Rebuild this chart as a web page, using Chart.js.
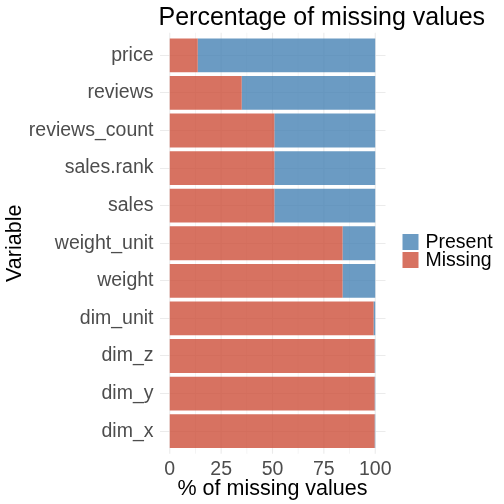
<!DOCTYPE html>
<html>
<head>
<meta charset="utf-8">
<script src="https://cdn.jsdelivr.net/npm/chart.js@4.4.0/dist/chart.umd.min.js"></script>
<style>
    html, body { margin: 0; padding: 0; background: #fff; }
</style>
</head>
<body>
<canvas id="missingChart" width="504" height="504"></canvas>
<script>
// Values
const variables = ['price', 'reviews', 'reviews_count', 'sales.rank', 'sales', 'weight_unit', 'weight', 'dim_unit', 'dim_z', 'dim_y', 'dim_x'];
const missingPct = [13.6, 35.0, 50.9, 50.9, 50.9, 84.1, 84.1, 99.2, 99.7, 99.7, 99.7];
const presentPct = [86.4, 65.0, 49.1, 49.1, 49.1, 15.9, 15.9, 0.8, 0.3, 0.3, 0.3];
const xTickLabels = [0, 25, 50, 75, 100];
const xGridValues = [0, 12.5, 25, 37.5, 50, 62.5, 75, 87.5, 100];

const FONT = "'Liberation Sans', Arial, Helvetica, sans-serif";
const GRID = '#EBEBEB';

Chart.defaults.font.family = FONT;

// Title aligned to the left edge of the panel (ggplot style)
const titlePlugin = {
    id: 'panelTitle',
    afterDraw(chart) {
        const ctx = chart.ctx;
        ctx.save();
        ctx.fillStyle = '#000';
        ctx.font = '25px ' + FONT;
        ctx.textAlign = 'left';
        ctx.textBaseline = 'alphabetic';
        ctx.fillText('Percentage of missing values', chart.chartArea.left - 1, 25);
        ctx.restore();
    }
};

// Vertical gridlines (major + minor), a little taller than the bars
const xGridPlugin = {
    id: 'xGrid',
    beforeDatasetsDraw(chart) {
        const x = chart.scales.x, y = chart.scales.y;
        const ext = Math.abs(y.getPixelForValue(1) - y.getPixelForValue(0)) * 0.1;
        const ctx = chart.ctx;
        ctx.save();
        ctx.strokeStyle = GRID;
        x.ticks.forEach(t => {
            const px = x.getPixelForValue(t.value);
            ctx.lineWidth = xTickLabels.includes(t.value) ? 1.1 : 0.55;
            ctx.beginPath();
            ctx.moveTo(px, chart.chartArea.top - ext);
            ctx.lineTo(px, chart.chartArea.bottom + ext);
            ctx.stroke();
        });
        ctx.restore();
    }
};

// Legend on the right: Present above Missing
const legendPlugin = {
    id: 'sideLegend',
    afterDraw(chart) {
        const ctx = chart.ctx;
        const left = chart.chartArea.right + 17;
        const size = 16, pitch = 18;
        const items = chart.data.datasets.slice().reverse();
        let top = chart.height / 2 - pitch;
        ctx.save();
        ctx.font = '19.5px ' + FONT;
        ctx.textBaseline = 'middle';
        ctx.textAlign = 'left';
        items.forEach(ds => {
            ctx.fillStyle = '#fff';
            ctx.fillRect(left, top, size, size);
            ctx.fillStyle = ds.backgroundColor;
            ctx.fillRect(left, top, size, size);
            ctx.fillStyle = '#000';
            ctx.fillText(ds.label, left + 23, top + size / 2 + 1);
            top += pitch;
        });
        ctx.restore();
    }
};

new Chart(document.getElementById('missingChart'), {
    type: 'bar',
    data: {
        labels: variables,
        datasets: [
            {
                label: 'Missing',
                data: missingPct,
                backgroundColor: 'rgba(205, 79, 57, 0.8)',
                barPercentage: 0.9,
                categoryPercentage: 1.0
            },
            {
                label: 'Present',
                data: presentPct,
                backgroundColor: 'rgba(70, 130, 180, 0.8)',
                barPercentage: 0.9,
                categoryPercentage: 1.0
            }
        ]
    },
    options: {
        indexAxis: 'y',
        responsive: false,
        animation: false,
        layout: { padding: { top: 36.5, right: 118.5, bottom: 0, left: 0 } },
        plugins: {
            legend: { display: false },
            tooltip: { enabled: false }
        },
        scales: {
            x: {
                type: 'linear',
                stacked: true,
                min: -5,
                max: 105,
                afterBuildTicks: scale => {
                    scale.ticks = xGridValues.map(v => ({ value: v }));
                },
                afterFit: scale => { scale.height = 54; },
                grid: { display: false },
                border: { display: false },
                ticks: {
                    autoSkip: false,
                    maxRotation: 0,
                    padding: 0,
                    color: '#4D4D4D',
                    font: { size: 19.5 },
                    callback: v => xTickLabels.includes(v) ? String(v) : ''
                },
                title: {
                    display: true,
                    text: '% of missing values',
                    color: '#000',
                    font: { size: 21.5 },
                    padding: { top: 0, bottom: 2 }
                }
            },
            y: {
                stacked: true,
                offset: true,
                afterFit: scale => { scale.width = 159.5; },
                grid: { color: GRID, lineWidth: 1.1, drawTicks: false, offset: false },
                border: { display: false },
                ticks: {
                    padding: 6,
                    color: '#4D4D4D',
                    font: { size: 19.5 }
                },
                title: {
                    display: true,
                    text: 'Variable',
                    color: '#000',
                    font: { size: 21.5 },
                    padding: { top: 2, bottom: 0 }
                }
            }
        }
    },
    plugins: [xGridPlugin, titlePlugin, legendPlugin]
});
</script>
</body>
</html>
